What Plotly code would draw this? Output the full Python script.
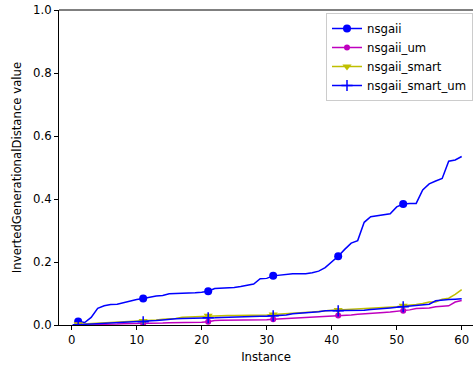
import plotly.graph_objects as go

instances = list(range(1, 61))

nsgaii = [0.011, 0.008, 0.024, 0.053, 0.061, 0.065, 0.066, 0.071, 0.078, 0.081,
          0.084, 0.089, 0.092, 0.094, 0.099, 0.100, 0.100, 0.101, 0.102, 0.104,
          0.107, 0.116, 0.117, 0.117, 0.119, 0.122, 0.126, 0.130, 0.147, 0.148,
          0.156, 0.159, 0.162, 0.163, 0.163, 0.163, 0.166, 0.171, 0.182, 0.199,
          0.218, 0.240, 0.260, 0.268, 0.326, 0.344, 0.347, 0.351, 0.353, 0.375,
          0.384, 0.386, 0.386, 0.429, 0.448, 0.457, 0.465, 0.520, 0.524, 0.535]

nsgaii_um = [0.001, 0.001, 0.002, 0.002, 0.003, 0.003, 0.003, 0.004, 0.004, 0.004,
             0.005, 0.005, 0.006, 0.006, 0.007, 0.007, 0.008, 0.008, 0.009, 0.009,
             0.010, 0.014, 0.015, 0.015, 0.016, 0.016, 0.016, 0.017, 0.017, 0.017,
             0.018, 0.019, 0.021, 0.023, 0.024, 0.025, 0.026, 0.027, 0.028, 0.029,
             0.030, 0.031, 0.032, 0.034, 0.036, 0.037, 0.039, 0.040, 0.041, 0.043,
             0.045, 0.048, 0.052, 0.053, 0.054, 0.058, 0.059, 0.061, 0.073, 0.078]

nsgaii_smart = [0.002, 0.003, 0.004, 0.005, 0.006, 0.007, 0.008, 0.009, 0.010, 0.011,
                0.013, 0.015, 0.016, 0.018, 0.019, 0.021, 0.025, 0.026, 0.027, 0.028,
                0.029, 0.029, 0.029, 0.030, 0.030, 0.030, 0.030, 0.031, 0.031, 0.032,
                0.033, 0.034, 0.035, 0.037, 0.038, 0.039, 0.041, 0.043, 0.046, 0.047,
                0.048, 0.049, 0.050, 0.050, 0.051, 0.052, 0.053, 0.055, 0.056, 0.058,
                0.061, 0.062, 0.065, 0.068, 0.073, 0.073, 0.082, 0.085, 0.097, 0.112]

nsgaii_smart_um = [0.001, 0.002, 0.003, 0.004, 0.005, 0.006, 0.006, 0.007, 0.008, 0.009,
                   0.010, 0.012, 0.014, 0.016, 0.019, 0.020, 0.021, 0.021, 0.022, 0.022,
                   0.023, 0.023, 0.024, 0.025, 0.025, 0.026, 0.026, 0.027, 0.028, 0.028,
                   0.029, 0.030, 0.032, 0.036, 0.037, 0.038, 0.040, 0.042, 0.045, 0.045,
                   0.045, 0.045, 0.046, 0.046, 0.047, 0.049, 0.050, 0.052, 0.054, 0.056,
                   0.058, 0.060, 0.063, 0.065, 0.066, 0.077, 0.080, 0.081, 0.082, 0.083]

y_ticks = [0.0, 0.2, 0.4, 0.6, 0.8, 1.0]
x_ticks = [0, 10, 20, 30, 40, 50, 60]
mark_every = 10

series = [
    ("nsgaii", nsgaii, "#0000ff", "circle", 8),
    ("nsgaii_um", nsgaii_um, "#bf00bf", "circle", 6),
    ("nsgaii_smart", nsgaii_smart, "#bfbf00", "triangle-down", 8),
    ("nsgaii_smart_um", nsgaii_smart_um, "#0000ff", "cross-thin", 8),
]

fig = go.Figure()
for name, vals, color, sym, sz in series:
    mline = dict(color=color, width=1.5 if sym == "cross-thin" else 0)
    # line through all points
    fig.add_trace(go.Scatter(
        x=instances, y=vals, name=name, mode="lines", showlegend=False,
        legendgroup=name, line=dict(color=color, width=1.5),
    ))
    # markers every 10th point
    fig.add_trace(go.Scatter(
        x=instances[::mark_every], y=vals[::mark_every], name=name, mode="markers",
        showlegend=False, legendgroup=name,
        marker=dict(symbol=sym, size=sz, color=color, opacity=1, line=mline),
    ))
    # legend entry
    fig.add_trace(go.Scatter(
        x=[None], y=[None], name=name, mode="lines+markers", legendgroup=name,
        line=dict(color=color, width=1.5),
        marker=dict(symbol=sym, size=sz, color=color, line=mline),
    ))

font = dict(family="DejaVu Sans", size=11.7, color="black")

fig.update_layout(
    width=473, height=365, autosize=False,
    margin=dict(l=59, r=0, t=10, b=40),
    paper_bgcolor="white", plot_bgcolor="white",
    font=font,
    showlegend=True,
    legend=dict(x=1, y=1 - 3 / 315, xanchor="right", yanchor="top",
                bgcolor="rgba(255,255,255,0.8)", bordercolor="#cccccc", borderwidth=1,
                font=font, tracegroupgap=0),
    xaxis=dict(range=[-1.95, 61.74], tickvals=x_ticks, ticks="outside", ticklen=4,
               tickwidth=1, tickcolor="black", showline=True, linecolor="black",
               linewidth=1, showgrid=False, zeroline=False,
               title=dict(text="Instance", font=font, standoff=6)),
    yaxis=dict(range=[0, 1], tickvals=y_ticks, tickformat=".1f", ticks="outside",
               ticklen=4, tickwidth=1, tickcolor="black", showline=True,
               linecolor="black", linewidth=1, showgrid=False, zeroline=False,
               title=dict(text="InvertedGenerationalDistance value", font=font, standoff=8)),
    shapes=[dict(type="line", xref="paper", yref="paper", x0=0, x1=1, y0=1, y1=1,
                 line=dict(color="black", width=1))],
)

fig.write_html("out.html")
